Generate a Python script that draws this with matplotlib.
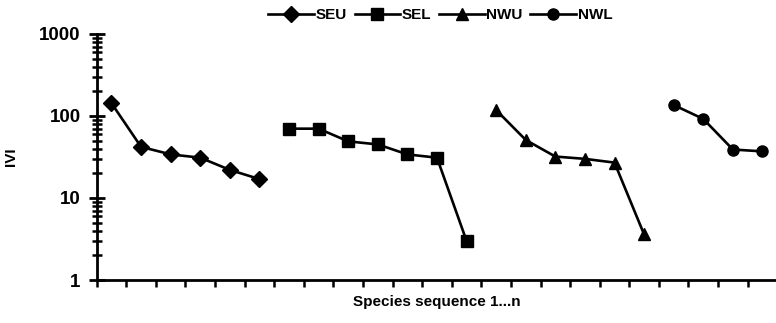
import numpy as np
import matplotlib
matplotlib.use("Agg")
import matplotlib.pyplot as plt
from matplotlib.ticker import LogLocator, NullFormatter, FixedLocator, NullLocator

plt.rcParams['font.family'] = ['Liberation Sans', 'DejaVu Sans']

# IVI values per stand, species in rank order
names = ['SEU', 'SEL', 'NWU', 'NWL']
seu = [143, 42, 34, 31, 22, 17]
sel = [70, 70, 49, 45, 34, 31, 3]
nwu = [118, 51, 32, 30, 27, 3.6]
nwl = [136, 92, 39, 37]
markers = ['D', 's', '^', 'o']
msizes = [8, 8, 9, 8]

series = [seu, sel, nwu, nwl]
fig = plt.figure(figsize=(7.76, 3.23), dpi=100)
ax = fig.add_axes([0.1246, 0.133, 0.877, 0.762])

start = 1
for name, vals, m, ms in zip(names, series, markers, msizes):
    x = np.arange(start, start + len(vals))
    ax.plot(x, vals, color='black', lw=1.9, marker=m, markersize=ms,
            markerfacecolor='black', markeredgecolor='black', label=name)
    start += len(vals)
ncat = start - 1

ax.set_yscale('log')
ax.set_ylim(1, 1000)
ax.set_xlim(0.5, ncat + 0.5)
ax.yaxis.set_minor_locator(LogLocator(base=10, subs=np.arange(2, 10), numticks=10))
ax.yaxis.set_minor_formatter(NullFormatter())
ax.set_yticks([1, 10, 100, 1000])
ax.set_yticklabels(['1', '10', '100', '1000'], fontsize=13.5, fontweight='bold')
ax.xaxis.set_major_locator(FixedLocator(np.arange(0.5, ncat + 1, 1)))
ax.xaxis.set_minor_locator(NullLocator())
ax.set_xticklabels([])

for s in ['top', 'right']:
    ax.spines[s].set_visible(False)
for s in ['left', 'bottom']:
    ax.spines[s].set_linewidth(2)

ax.tick_params(axis='y', which='major', direction='inout', length=11, width=2, pad=6)
ax.tick_params(axis='y', which='minor', direction='inout', length=7, width=1.8)
ax.tick_params(axis='x', which='major', direction='out', length=5, width=1.8)

ax.set_ylabel('IVI', fontsize=11, fontweight='bold')
ax.yaxis.set_label_coords(-0.115, 0.5)
ax.set_xlabel('Species sequence 1...n', fontsize=11, fontweight='bold')
ax.xaxis.set_label_coords(0.5, -0.06)

ax.legend(loc='center', bbox_to_anchor=(0.505, 1.075), ncol=4, frameon=False,
          handlelength=3.0, handletextpad=0.1, columnspacing=0.5,
          prop={'size': 11, 'weight': 'bold'})

fig.savefig('out.png', dpi=100)
